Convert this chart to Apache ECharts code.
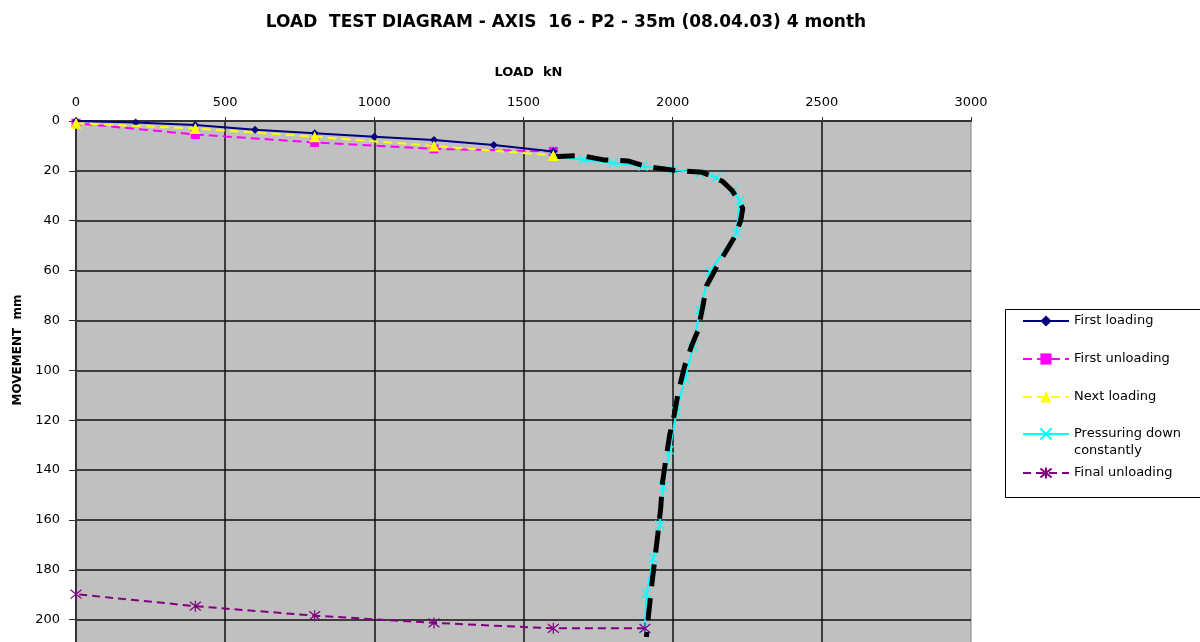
<!DOCTYPE html>
<html>
<head>
<meta charset="utf-8">
<script src="https://cdn.jsdelivr.net/npm/echarts@6/dist/echarts.min.js"></script>
<style>
  html, body { margin: 0; padding: 0; background: #ffffff; }
  #chart { width: 1200px; height: 642px; }
</style>
</head>
<body>
<div id="chart"></div>
<script>
// Chart texts
const chartTitle = 'LOAD  TEST DIAGRAM - AXIS  16 - P2 - 35m (08.04.03) 4 month';
const loadAxisName = 'LOAD  kN';
const movementAxisName = 'MOVEMENT  mm';

// Axis ticks (load in kN, movement in mm)
const loadTicks = [0, 500, 1000, 1500, 2000, 2500, 3000];
const movementTicks = [0, 20, 40, 60, 80, 100, 120, 140, 160, 180, 200];

// Series names
const seriesNames = ['First loading', 'First unloading', 'Next loading', 'Pressuring down constantly', 'Final unloading'];

// First loading
const firstLoadingLoad = [0, 200, 400, 600, 800, 1000, 1200, 1400, 1600];
const firstLoadingMove = [0, 0.6, 1.6, 3.5, 4.9, 6.3, 7.6, 9.6, 12.2];

// First unloading
const firstUnloadingLoad = [1600, 1200, 800, 400, 0];
const firstUnloadingMove = [12.2, 11.2, 8.6, 5.4, 0.9];

// Next loading
const nextLoadingLoad = [0, 400, 800, 1200, 1600];
const nextLoadingMove = [0.9, 3.0, 6.3, 10.0, 13.8];

// Pressuring down constantly
const pressLoad = [1600, 1700, 1800, 1900, 2000, 2091, 2147, 2203, 2225, 2214, 2125, 2091, 2069, 2041, 2013, 1990, 1968, 1957, 1935, 1912, 1907];
const pressMove = [14.3, 15.5, 16.8, 18.2, 19.5, 21.0, 22.6, 27.7, 32.0, 45.0, 60.4, 75.8, 90.5, 103.2, 116.6, 132.0, 146.7, 162.0, 175.4, 189.5, 203.5];

// Final unloading
const finalUnloadingLoad = [1907, 1600, 1200, 800, 400, 0];
const finalUnloadingMove = [203.5, 203.5, 201.3, 198.4, 194.6, 189.8];

// Hand-drawn trend along the pressing curve (no legend entry)
const trendLoad = [1598, 1690, 1770, 1850, 1913, 2014, 2100, 2168, 2200, 2235, 2228, 2205, 2150, 2114, 2100, 2085, 2064, 2041, 2020, 2005, 1990, 1978, 1966, 1960, 1950, 1940, 1930, 1920, 1912];
const trendMove = [14.3, 13.8, 15.6, 16.0, 18.3, 19.9, 20.6, 24.3, 28.0, 35.0, 40.0, 47.0, 58.0, 66.0, 75.0, 84.0, 90.0, 98.0, 108.0, 118.0, 126.0, 135.0, 145.0, 155.0, 166.0, 176.0, 186.0, 197.0, 207.0];

const pairs = (xs, ys) => xs.map((x, i) => [x, ys[i]]);

const FONT = 'DejaVu Sans';
const crossPath = 'path://M0,0L10,10M10,0L0,10';
const starPath = 'path://M1,1L9,9M9,1L1,9M5,0L5,10';

const chart = echarts.init(document.getElementById('chart'), null, { renderer: 'canvas' });

// Legend entry labels; the long name wraps onto a second line under the first
const legendLabel = n => (n === seriesNames[3] ? '\nPressuring down\nconstantly' : n);

// One legend block per entry, stacked inside a framed box
const legendTops = [312.5, 350.5, 388.5, 408.5, 464.5];
const legends = seriesNames.map((name, i) => ({
  data: [name],
  left: 1022,
  top: legendTops[i],
  padding: 0,
  itemWidth: 46,
  itemHeight: 14,
  itemGap: 0,
  selectedMode: false,
  formatter: legendLabel,
  textStyle: {
    fontFamily: FONT,
    fontSize: 13,
    color: '#000',
    lineHeight: 17
  }
}));

const option = {
  animation: false,
  backgroundColor: '#ffffff',
  title: {
    text: chartTitle,
    left: 561,
    top: 9,
    textAlign: 'center',
    textStyle: { fontFamily: FONT, fontSize: 17, fontWeight: 'bold', color: '#000' }
  },
  legend: legends,
  graphic: [
    {
      type: 'rect',
      z: 0,
      shape: { x: 1005.5, y: 309.5, width: 210, height: 188 },
      style: { fill: '#ffffff', stroke: '#000000', lineWidth: 1 }
    },
    {
      type: 'text',
      z: 5,
      x: 18,
      y: 350,
      rotation: Math.PI / 2,
      style: {
        text: movementAxisName,
        fontFamily: FONT,
        fontSize: 12,
        fontWeight: 'bold',
        fill: '#000',
        align: 'center',
        verticalAlign: 'middle'
      }
    }
  ],
  grid: {
    left: 76,
    top: 121,
    width: 895,
    height: 548.5,
    outerBoundsMode: 'none',
    containLabel: false,
    show: true,
    backgroundColor: '#c0c0c0',
    borderColor: '#808080',
    borderWidth: 1
  },
  xAxis: {
    type: 'value',
    position: 'top',
    min: loadTicks[0],
    max: loadTicks[loadTicks.length - 1],
    interval: loadTicks[1] - loadTicks[0],
    name: loadAxisName,
    nameLocation: 'middle',
    nameGap: 42,
    nameTextStyle: { fontFamily: FONT, fontSize: 13, fontWeight: 'bold', color: '#000', padding: [0, 0, 0, 10] },
    axisLine: { show: true, lineStyle: { color: '#333', width: 2 } },
    axisTick: { show: true, inside: false, length: 4, lineStyle: { color: '#333' } },
    axisLabel: { fontFamily: FONT, fontSize: 13, color: '#000', margin: 12, formatter: v => String(v) },
    splitLine: { show: true, showMaxLine: false, lineStyle: { color: '#111', width: 1.5 } }
  },
  yAxis: {
    type: 'value',
    inverse: true,
    min: movementTicks[0],
    max: 220,
    interval: movementTicks[1] - movementTicks[0],
    axisLine: { show: true, lineStyle: { color: '#333', width: 2 } },
    axisTick: { show: true, inside: false, length: 7, lineStyle: { color: '#333' } },
    axisLabel: {
      fontFamily: FONT, fontSize: 13, color: '#000', margin: 16,
      formatter: v => (movementTicks.indexOf(v) >= 0 ? String(v) : '')
    },
    splitLine: { show: true, lineStyle: { color: '#111', width: 1.5 } }
  },
  series: [
    {
      name: seriesNames[0],
      type: 'line',
      data: pairs(firstLoadingLoad, firstLoadingMove),
      symbol: 'diamond',
      symbolSize: 8,
      lineStyle: { color: '#000080', width: 2 },
      itemStyle: { color: '#000080' },
      z: 4
    },
    {
      name: seriesNames[1],
      type: 'line',
      data: pairs(firstUnloadingLoad, firstUnloadingMove),
      symbol: 'rect',
      symbolSize: 9,
      lineStyle: { color: '#ff00ff', width: 2, type: [9, 5] },
      itemStyle: { color: '#ff00ff' },
      z: 3
    },
    {
      name: seriesNames[2],
      type: 'line',
      data: pairs(nextLoadingLoad, nextLoadingMove),
      symbol: 'triangle',
      symbolSize: 11,
      lineStyle: { color: '#ffff00', width: 2, type: [9, 5] },
      itemStyle: { color: '#ffff00' },
      z: 5
    },
    {
      name: seriesNames[3],
      type: 'line',
      data: pairs(pressLoad, pressMove),
      symbol: crossPath,
      symbolSize: 9,
      lineStyle: { color: '#00ffff', width: 2 },
      itemStyle: { color: '#00ffff', borderColor: '#00ffff', borderWidth: 1.2 },
      z: 3
    },
    {
      name: 'trend',
      type: 'line',
      data: pairs(trendLoad, trendMove),
      showSymbol: false,
      symbol: 'none',
      lineStyle: { color: '#000000', width: 5, type: [22, 12] },
      z: 4
    },
    {
      name: seriesNames[4],
      type: 'line',
      data: pairs(finalUnloadingLoad, finalUnloadingMove),
      symbol: starPath,
      symbolSize: 11,
      lineStyle: { color: '#800080', width: 2, type: [8, 5] },
      itemStyle: { color: '#800080', borderColor: '#800080', borderWidth: 1.2 },
      z: 4
    }
  ]
};

chart.setOption(option);
</script>
</body>
</html>
